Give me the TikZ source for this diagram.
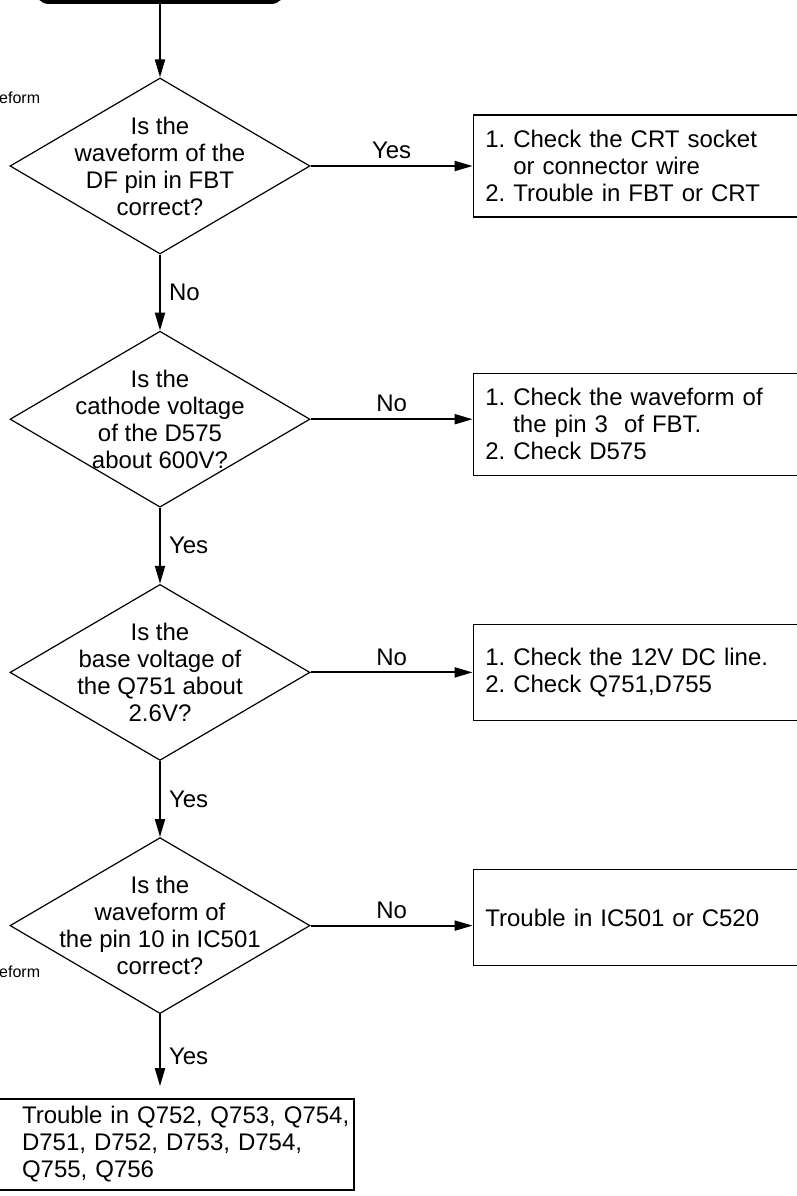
\documentclass[tikz,border=0pt]{standalone}
\usepackage{fontspec}
\setmainfont{Liberation Sans}
\usetikzlibrary{arrows.meta, positioning, shapes.geometric}
\frenchspacing

\begin{document}
\begin{tikzpicture}[
x=1pt, y=-1pt,
node distance=76pt and 162pt,
font=\fontsize{24}{27}\selectfont,
test/.style={draw, diamond, line width=1.2pt, aspect=1.7, minimum width=300pt, minimum height=176pt, inner sep=-20pt, align=center},
box/.style={draw, line width=1.4pt, minimum width=324pt, text width=300pt, inner xsep=12pt, align=left},
arrow/.style={-{Triangle[length=18pt, width=10pt]}, line width=2pt},
lbl/.style={inner sep=2pt},
cut/.style={font=\fontsize{16}{18}\selectfont, inner sep=0pt, anchor=west}
]
\useasboundingbox (0,0) rectangle (797,1196);

\node[fill=black, rounded corners=14pt, minimum width=250pt, minimum height=60pt] (start) at (160,-26) {};
\node[cut] (cutA) at (-1,98) {eform};
\node[cut] (cutB) at (-1,972) {eform};

\node[test] (d1) at (160,166) {Is the\\waveform of the\\DF pin in FBT\\correct?};
\node[test, below=of d1] (d2) {Is the\\cathode voltage\\of the D575\\about 600V?};
\node[test, below=of d2] (d3) {Is the\\base voltage of\\the Q751 about\\2.6V?};
\node[test, below=of d3] (d4) {Is the\\waveform of\\the pin 10 in IC501\\correct?};

\node[box, minimum height=102pt, right=of d1] (r1) {1. Check the CRT socket\\\hphantom{1. }or connector wire\\2. Trouble in FBT or CRT};
\node[box, minimum height=102pt, right=of d2, yshift=-5pt] (r2) {1. Check the waveform of\\\hphantom{1. }the pin 3\ \ of FBT.\\2. Check D575};
\node[box, minimum height=96pt, right=of d3] (r3) {1. Check the 12V DC line.\\2. Check Q751,D755};
\node[box, minimum height=96pt, right=of d4, yshift=8pt] (r4) {Trouble in IC501 or C520};
\node[box, minimum width=400pt, text width=264pt, inner xsep=68pt, minimum height=91pt, below=84pt of d4, xshift=-6pt] (fix) {\mbox{Trouble in Q752, Q753, Q754,}\\\mbox{D751, D752, D753, D754,}\\Q755, Q756};

\draw[arrow] (start) -- (d1);
\draw[arrow] (d1) -- node[right=6pt, lbl] {No} (d2);
\draw[arrow] (d2) -- node[right=6pt, lbl] {Yes} (d3);
\draw[arrow] (d3) -- node[right=6pt, lbl] {Yes} (d4);
\draw[arrow, shorten >=12pt] (d4.south) -- node[right=6pt, lbl] {Yes} (d4.south |- fix.north);

\draw[arrow] (d1.east) -- node[above=4pt, lbl] {Yes} (d1.east -| r1.west);
\draw[arrow] (d2.east) -- node[above=4pt, lbl] {No} (d2.east -| r2.west);
\draw[arrow] (d3.east) -- node[above=4pt, lbl] {No} (d3.east -| r3.west);
\draw[arrow] (d4.east) -- node[above=4pt, lbl] {No} (d4.east -| r4.west);
\end{tikzpicture}
\end{document}
